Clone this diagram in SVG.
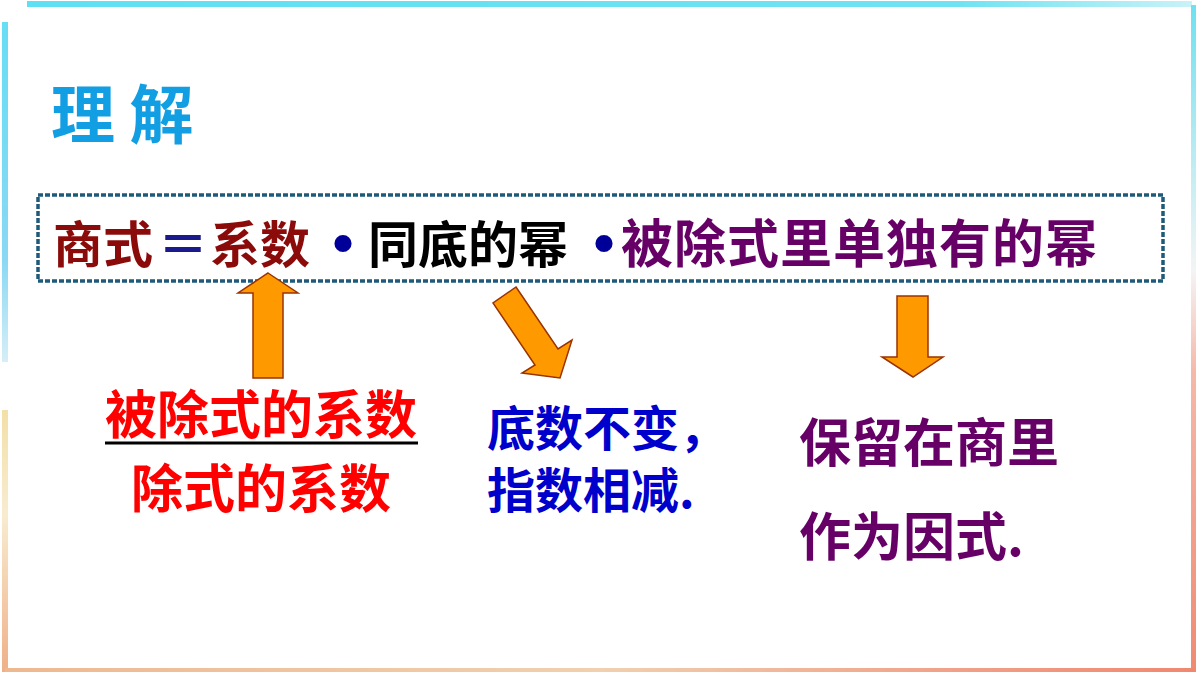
<svg xmlns="http://www.w3.org/2000/svg" width="1200" height="675" viewBox="0 0 1200 675">
<defs>
<style>
.cjk{font-family:"Noto Sans CJK SC","Noto Sans CJK TC",sans-serif;font-weight:bold}
.dot{font-family:"Liberation Sans",sans-serif;font-weight:bold;fill:#000099}
.arrow{fill:#ff9900;stroke:#993300;stroke-width:1.5;stroke-linejoin:miter}
</style>
<linearGradient id="gTop" x1="0" y1="0" x2="1" y2="0">
<stop offset="0" stop-color="#5fe0f2"/><stop offset="0.8" stop-color="#6fe3f2"/><stop offset="1" stop-color="#c8f2f8"/>
</linearGradient>
<linearGradient id="gRight" x1="0" y1="0" x2="0" y2="1">
<stop offset="0" stop-color="#6fe0f0"/><stop offset="0.4" stop-color="#f4f4f4"/><stop offset="0.55" stop-color="#f6b8a8"/><stop offset="1" stop-color="#f08a72"/>
</linearGradient>
<linearGradient id="gLeftTop" x1="0" y1="0" x2="0" y2="1">
<stop offset="0" stop-color="#66def4"/><stop offset="0.7" stop-color="#8ad8f4"/><stop offset="1" stop-color="#d6eef8"/>
</linearGradient>
<linearGradient id="gLeftBot" x1="0" y1="0" x2="0" y2="1">
<stop offset="0" stop-color="#f2e0a8"/><stop offset="0.4" stop-color="#f8ecd0"/><stop offset="1" stop-color="#efb088"/>
</linearGradient>
<linearGradient id="gBottom" x1="0" y1="0" x2="1" y2="0">
<stop offset="0" stop-color="#eeb890"/><stop offset="0.5" stop-color="#f0d0b0"/><stop offset="0.8" stop-color="#f0a088"/><stop offset="1" stop-color="#f08870"/>
</linearGradient>
</defs>
<rect width="1200" height="675" fill="#ffffff"/>
<g id="frame">
<rect x="27" y="1" width="1165" height="6" fill="url(#gTop)"/>
<rect x="1191" y="5" width="5" height="667" fill="url(#gRight)"/>
<rect x="2" y="22" width="6" height="340" fill="url(#gLeftTop)"/>
<rect x="2" y="410" width="6" height="262" fill="url(#gLeftBot)"/>
<rect x="5" y="668" width="1190" height="4" fill="url(#gBottom)"/>
</g>
<g id="title">
<text class="cjk" x="51" y="138" font-size="64" fill="#129ee2">理 解</text>
</g>
<g id="formula">
<rect x="38" y="195" width="1125" height="86" fill="none" stroke="#1e5a7a" stroke-width="3.5" stroke-dasharray="5 2"/>
<text class="cjk" x="53" y="263" font-size="50" fill="#8b0a0a">商式</text>
<text class="cjk" x="158" y="263" font-size="50" fill="#1a1a8c">＝</text>
<text class="cjk" x="210" y="263" font-size="50" fill="#8b0a0a">系数</text>
<text class="dot" x="343" y="263" font-size="60" text-anchor="middle">•</text>
<text class="cjk" x="368" y="263" font-size="50" fill="#000000">同底的幂</text>
<text class="dot" x="604" y="263" font-size="60" text-anchor="middle">•</text>
<text class="cjk" x="621" y="263" font-size="52" fill="#660066" letter-spacing="1">被除式里单独有的幂</text>
</g>
<g id="coef">
<text class="cjk" x="105" y="434" font-size="52" fill="#ff0000">被除式的系数</text>
<line x1="105" y1="443" x2="418" y2="443" stroke="#000000" stroke-width="3"/>
<text class="cjk" x="131" y="508" font-size="52" fill="#ff0000">除式的系数</text>
</g>
<g id="base">
<text class="cjk" x="487" y="446" font-size="48" fill="#0000cc">底数不变，</text>
<text class="cjk" x="487" y="508" font-size="48" fill="#0000cc">指数相减.</text>
</g>
<g id="keep">
<text class="cjk" x="799" y="462" font-size="52" fill="#660066">保留在商里</text>
<text class="cjk" x="799" y="556" font-size="52" fill="#660066">作为因式.</text>
</g>
<g id="connectors">
<polygon class="arrow" points="268,273 298,293 283,293 283,378 253,378 253,293 238,293"/>
<polygon class="arrow" points="516,287 558,349 572,340 560,378 522,373 535,365 493,303"/>
<polygon class="arrow" points="897,296 928,296 928,357 943,357 913,377 882,357 897,357"/>
</g>
</svg>
